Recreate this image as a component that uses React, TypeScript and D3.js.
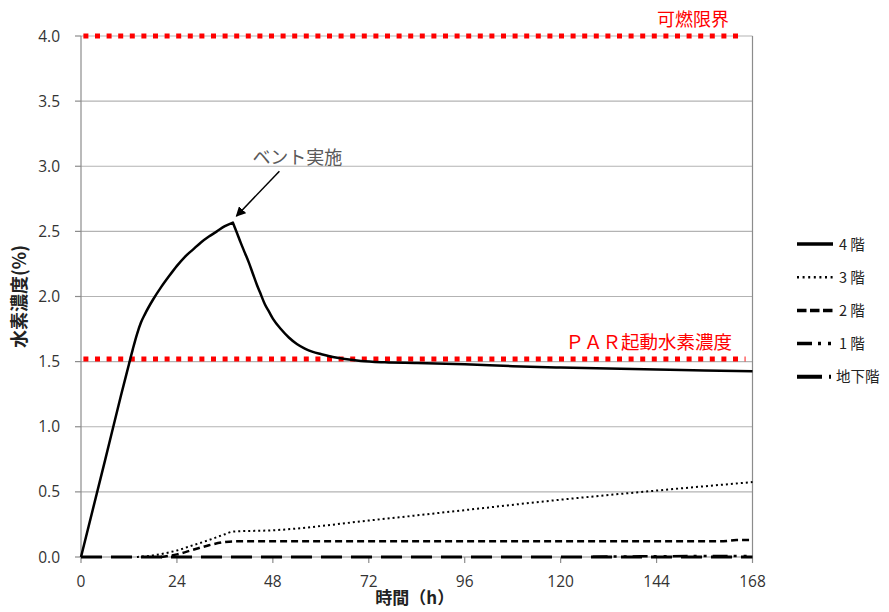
import React from 'react';
import * as d3 from 'd3';

// ---------- data ----------
const X_TICKS = [0, 24, 48, 72, 96, 120, 144, 168];
const Y_TICKS = [0, 0.5, 1.0, 1.5, 2.0, 2.5, 3.0, 3.5, 4.0];

const F4_HOURS = [0, 6, 10, 12, 13, 14, 15, 16, 18, 20, 22, 24, 26, 28, 30, 32, 34, 36, 38,
  39, 40, 41, 42, 43, 44, 45, 46, 47, 48, 50, 52, 54, 56, 58, 60, 63, 66, 70, 76, 84, 96, 108, 120, 132, 144, 156, 168];
const F4_VALUES = [0, 0.74, 1.24, 1.48, 1.60, 1.71, 1.80, 1.865, 1.975, 2.07, 2.155, 2.235, 2.305, 2.36, 2.415, 2.46, 2.50, 2.54, 2.567,
  2.49, 2.41, 2.335, 2.26, 2.175, 2.09, 2.015, 1.94, 1.885, 1.83, 1.75, 1.685, 1.635, 1.60, 1.575, 1.558, 1.535, 1.52, 1.505, 1.495, 1.49, 1.48, 1.465, 1.455, 1.447, 1.44, 1.432, 1.426];

const F3_HOURS = [14, 18, 22, 24, 28, 32, 36, 38, 48, 72, 96, 120, 144, 168];
const F3_VALUES = [0, 0.012, 0.035, 0.05, 0.09, 0.13, 0.175, 0.195, 0.205, 0.28, 0.36, 0.44, 0.51, 0.575];

const F2_HOURS = [20, 24, 28, 32, 36, 38, 48, 96, 160, 164, 168];
const F2_VALUES = [0, 0.02, 0.055, 0.09, 0.115, 0.12, 0.12, 0.12, 0.12, 0.13, 0.13];

const F1_HOURS = [128, 140, 168];
const F1_VALUES = [0.002, 0.005, 0.008];

const B1_HOURS = [0, 168];
const B1_VALUES = [0, 0];

const SERIES_NAMES = ['4 階', '3 階', '2 階', '1 階', '地下階'];

const FLAMMABLE_LIMIT = 4.0;
const PAR_START = 1.52;
const LIMIT_HOURS = [0.6, 165];
const PEAK_HOUR = 38;

// ---------- layout ----------
const W = 889, H = 612;
const x = d3.scaleLinear().domain([0, 168]).range([81, 752.5]);
const y = d3.scaleLinear().domain([0, 4]).range([557, 36]);

const GRID = '#b3b3b3';
const AXIS = '#8c8c8c';
const RED = '#ff0000';
const CJK = '"Noto Sans CJK JP", "Noto Sans", sans-serif';
const NUM = '"Open Sans", "Liberation Sans", sans-serif';

const seriesData = [
  { hours: F4_HOURS, values: F4_VALUES, width: 2.5, dash: null as string | null, legendDash: null as string | null, legendWidth: 3.5, splitAt: PEAK_HOUR as number | null },
  { hours: F3_HOURS, values: F3_VALUES, width: 2, dash: '2 3', legendDash: '2 3.6', legendWidth: 2.5, splitAt: null },
  { hours: F2_HOURS, values: F2_VALUES, width: 2.5, dash: '7 4', legendDash: '9.5 3.5', legendWidth: 3.5, splitAt: null },
  { hours: F1_HOURS, values: F1_VALUES, width: 2.5, dash: '15 6 3 7 3 6', legendDash: '15 6 3 7 3 20', legendWidth: 3.5, splitAt: null },
  { hours: B1_HOURS, values: B1_VALUES, width: 3, dash: '21 9', legendDash: '25 7 2 20', legendWidth: 4, splitAt: null },
];

const smooth = d3.line<[number, number]>().x(d => x(d[0])).y(d => y(d[1])).curve(d3.curveMonotoneX);

function seriesPath(hours: number[], values: number[], splitAt: number | null): string {
  const pts = hours.map((h, j) => [h, values[j]] as [number, number]);
  if (splitAt == null) return smooth(pts) || '';
  const k = hours.indexOf(splitAt);
  const a = smooth(pts.slice(0, k + 1)) || '';
  const b = smooth(pts.slice(k)) || '';
  return a + b.replace(/^M/, 'L');
}

export default function App() {
  const peakIdx = F4_HOURS.indexOf(PEAK_HOUR);
  const tipX = x(PEAK_HOUR) + 3.5;
  const tipY = y(F4_VALUES[peakIdx]) - 6.5;
  const tailX = tipX + 43;
  const tailY = tipY - 45;

  const legendY0 = 244;
  const legendStep = 33.2;

  return (
    <svg width={W} height={H} style={{ position: 'absolute', left: 0, top: 0, background: '#fff' }}>
      <defs>
        <marker id="arrowhead" viewBox="0 0 10 10" refX="9" refY="5" markerWidth="10" markerHeight="10"
          markerUnits="userSpaceOnUse" orient="auto">
          <path d="M0,0 L10,5 L0,10 z" fill="#000" />
        </marker>
      </defs>

      {/* gridlines */}
      {Y_TICKS.map(t => (
        <line key={'g' + t} x1={x(0)} x2={x(168)} y1={y(t)} y2={y(t)} stroke={t === 0 ? AXIS : GRID} strokeWidth={1.2} />
      ))}
      {/* axes */}
      <line x1={x(0)} x2={x(0)} y1={y(4)} y2={y(0)} stroke={AXIS} strokeWidth={1.2} />
      <line x1={x(168)} x2={x(168)} y1={y(4)} y2={y(0)} stroke={AXIS} strokeWidth={1.2} />
      {Y_TICKS.map(t => (
        <line key={'yt' + t} x1={x(0) - 6} x2={x(0)} y1={y(t)} y2={y(t)} stroke={AXIS} strokeWidth={1.2} />
      ))}
      {X_TICKS.map(t => (
        <line key={'xt' + t} x1={x(t)} x2={x(t)} y1={y(0)} y2={y(0) + 6} stroke={AXIS} strokeWidth={1.2} />
      ))}

      {/* tick labels */}
      {Y_TICKS.map(t => (
        <text key={'yl' + t} x={60} y={y(t)} dy="0.36em" textAnchor="end" fontFamily={NUM} fontSize={15.5} fill="#333">
          {d3.format('.1f')(t)}
        </text>
      ))}
      {X_TICKS.map(t => (
        <text key={'xl' + t} x={x(t)} y={587} textAnchor="middle" fontFamily={NUM} fontSize={15.5} fill="#333">
          {t}
        </text>
      ))}

      {/* axis titles */}
      <text transform={`translate(20,${(y(0) + y(4)) / 2}) rotate(-90)`} textAnchor="middle" dy="0.35em"
        fontFamily={CJK} fontSize={18} fontWeight="bold" fill="#222">水素濃度(%)</text>
      <text x={(x(0) + x(168)) / 2 - 2} y={604} textAnchor="middle" fontFamily={CJK} fontSize={17} fontWeight="bold" fill="#222">
        時間（h）
      </text>

      {/* limit lines */}
      {[FLAMMABLE_LIMIT, PAR_START].map(v => (
        <line key={'lim' + v} x1={x(LIMIT_HOURS[0])} x2={x(LIMIT_HOURS[1]) + (v === PAR_START ? 5 : 0)} y1={y(v)} y2={y(v)}
          stroke={RED} strokeWidth={5} strokeDasharray="5 6.6" />
      ))}
      <text x={729} y={y(FLAMMABLE_LIMIT) - 10} textAnchor="end" fontFamily={CJK} fontSize={18} fill={RED}>可燃限界</text>
      <text x={732} y={y(PAR_START) - 10} textAnchor="end" fontFamily={CJK} fontSize={18.5} fill={RED}>ＰＡＲ起動水素濃度</text>

      {/* series (bottom first) */}
      {seriesData.slice().reverse().map((s, i) => (
        <path key={'s' + i} d={seriesPath(s.hours, s.values, s.splitAt)}
          fill="none" stroke="#000" strokeWidth={s.width} strokeDasharray={s.dash || undefined}
          strokeLinejoin="round" />
      ))}

      {/* annotation */}
      <line x1={tailX} y1={tailY} x2={tipX} y2={tipY} stroke="#000" strokeWidth={1.5} markerEnd="url(#arrowhead)" />
      <text x={tailX - 27} y={tailY - 7} fontFamily={CJK} fontSize={18} fill="#595959">ベント実施</text>

      {/* legend */}
      {seriesData.map((s, i) => (
        <g key={'lg' + i} transform={`translate(0,${legendY0 + i * legendStep})`}>
          <line x1={797} x2={833} y1={0} y2={0} stroke="#000" strokeWidth={s.legendWidth}
            strokeDasharray={s.legendDash || undefined} />
          <text x={i === 4 ? 836 : 839} y={0} dy="0.38em" fontFamily={CJK} fontSize={14.5} fill="#222">
            {SERIES_NAMES[i]}
          </text>
        </g>
      ))}
    </svg>
  );
}
